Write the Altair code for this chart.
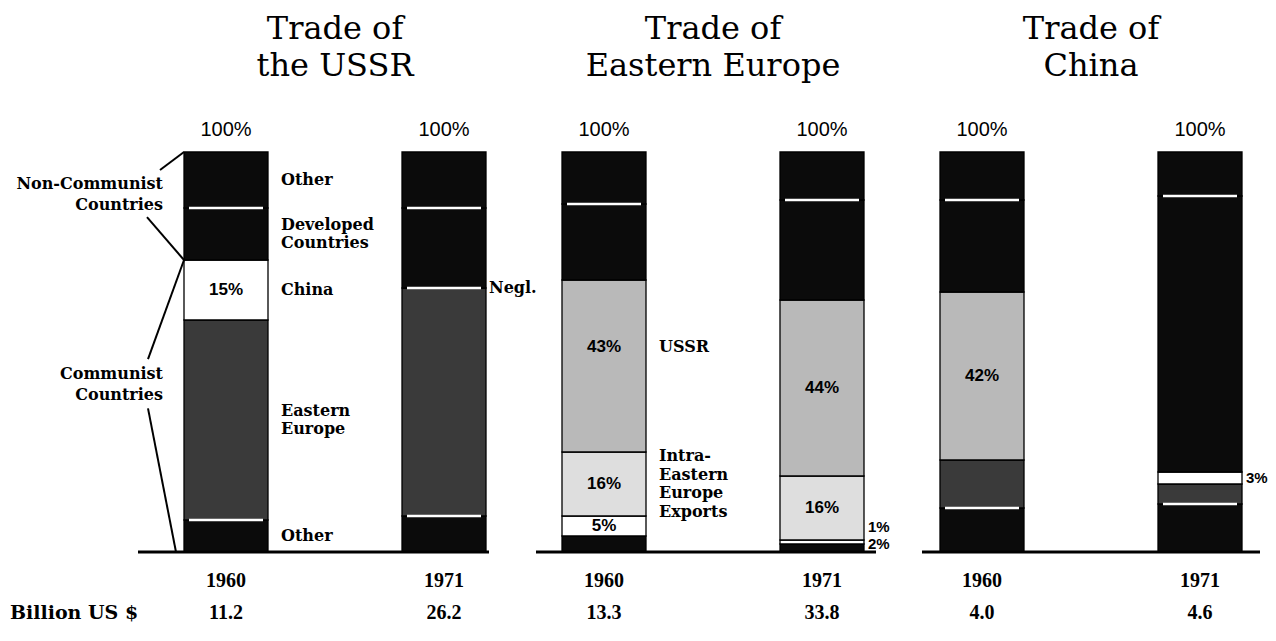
import altair as alt
import pandas as pd

# ------------------------------------------------------------------ data
YEARS = ["1960", "1971"]

# segments are listed bottom -> top
ussr_segments = ["Other (Communist)", "Eastern Europe", "China",
                 "Developed Countries", "Other (Non-Communist)"]
ussr_1960 = [8, 50, 15, 13, 14]
ussr_1971 = [9, 57, 0, 20, 14]

ee_segments = ["Other (Communist)", "China", "Intra-Eastern Europe Exports",
               "USSR", "Developed Countries", "Other (Non-Communist)"]
ee_1960 = [4, 5, 16, 43, 19, 13]
ee_1971 = [2, 1, 16, 44, 25, 12]

china_segments = ["Other (Communist)", "Eastern Europe", "USSR",
                  "Developed Countries", "Other (Non-Communist)"]
china_1960 = [11, 12, 42, 23, 12]
china_1971 = [12, 5, 3, 69, 11]

billion_usd_ussr = ["11.2", "26.2"]
billion_usd_ee = ["13.3", "33.8"]
billion_usd_china = ["4.0", "4.6"]

titles = {
    "USSR": ["Trade of", "the USSR"],
    "EE": ["Trade of", "Eastern Europe"],
    "China": ["Trade of", "China"],
}

# labels beside the bars (bottom -> top)
ussr_side_1960 = ["Other", "Eastern\nEurope", "China", "Developed\nCountries", "Other"]
ussr_side_1971 = ["", "", "Negl.", "", ""]
ee_side_1960 = ["", "", "Intra-\nEastern\nEurope\nExports", "USSR", "", ""]
ee_side_1971 = ["2%", "1%", "", "", "", ""]
china_side_1960 = ["", "", "", "", ""]
china_side_1971 = ["", "", "3%", "", ""]

# labels inside the bars (bottom -> top)
ussr_inside_1960 = ["", "", "15%", "", ""]
ussr_inside_1971 = ["", "", "", "", ""]
ee_inside_1960 = ["", "5%", "16%", "43%", "", ""]
ee_inside_1971 = ["", "", "16%", "44%", "", ""]
china_inside_1960 = ["", "", "42%", "", ""]
china_inside_1971 = ["", "", "", "", ""]

top_label = "100%"
left_top_label = "Non-Communist\nCountries"
left_bottom_label = "Communist\nCountries"
billion_label = "Billion US $"

# ------------------------------------------------------------------ style
KIND = {
    "Other (Communist)": "black",
    "Other (Non-Communist)": "black",
    "Developed Countries": "black",
    "Eastern Europe": "dark",
    "China": "white",
    "USSR": "light",
    "Intra-Eastern Europe Exports": "lighter",
}
KIND_OVERRIDE = {("China", "1971", "USSR"): "white"}
KIND_DOMAIN = ["black", "dark", "light", "lighter", "white"]
KIND_RANGE = ["#0b0b0b", "#3a3a3a", "#b9b9b9", "#dedede", "#ffffff"]
DARK = {"black", "dark"}
# label nudges (in percentage points)
NUDGE = {("EE", "1960", "USSR"): 4.7,
         ("EE", "1971", "China"): 3.8,
         ("EE", "1971", "Other (Communist)"): 1.0}

SERIF = "DejaVu Serif"
SANS = "Liberation Sans"
NUM = "Liberation Serif"

BAR_STEP = 218
BAR_W = 84
PLOT_H = 400
PX_PER_PCT = PLOT_H / 100
SIDE_LH = 18.5
LEFT_LH = 21
LAYOUT = {"USSR": (218, 80), "EE": (80, 80), "China": (80, 62)}
BASE_EXT = {"USSR": (46, 3), "EE": (26, 12), "China": (18, 18)}

YS = alt.Scale(domain=[0, 100], nice=False, zero=True)


def block_shift(text, lh):
    """shift (in % units) that centres a multi-line text block on its anchor"""
    return text.count("\n") * lh / 2 / PX_PER_PCT


def build_rows(key, segs, vals, sides, insides):
    rows = []
    for yr, v, sd, ins in zip(YEARS, vals, sides, insides):
        kinds = [KIND_OVERRIDE.get((key, yr, s), KIND[s]) for s in segs]
        for i, s in enumerate(segs):
            sep = False
            if v[i] > 0:
                nxt = [j for j in range(i + 1, len(segs)) if v[j] > 0]
                if nxt and kinds[i] in DARK and kinds[nxt[0]] in DARK:
                    sep = True
            lab = sd[i]
            style = "" if lab == "" else ("pct" if lab.endswith("%") else
                                          ("tight" if lab == "Negl." else "main"))
            rows.append(dict(year=yr, segment=s, order=i, value=v[i],
                             kind=kinds[i], sep=sep, side=lab, side_style=style,
                             inside=ins[i],
                             nudge=NUDGE.get((key, yr, s), 0.0),
                             lift=block_shift(lab, SIDE_LH)))
    return pd.DataFrame(rows)


def make_panel(key, segs, vals, sides, insides, billions, extra=None):
    lm, rm = LAYOUT[key]
    W = lm + BAR_STEP + rm
    pi = 1 - BAR_W / BAR_STEP
    outer = (lm - BAR_W / 2) + (rm - BAR_W / 2)
    po = outer / (2 * BAR_STEP)
    al = (lm - BAR_W / 2) / outer
    xs = alt.Scale(domain=YEARS, paddingInner=pi, paddingOuter=po, align=al)
    X = alt.X("year:N", scale=xs, axis=None)
    XR = alt.X("year:N", scale=xs, axis=None, bandPosition=1)

    df = build_rows(key, segs, vals, sides, insides)
    base = alt.Chart(df).transform_stack(
        stack="value", groupby=["year"], as_=["y0", "y1"],
        sort=[alt.SortField("order", order="ascending")], offset="zero"
    ).transform_calculate(
        mid="(datum.y0 + datum.y1) / 2 + datum.nudge",
        side_y="(datum.y0 + datum.y1) / 2 + datum.nudge + datum.lift")

    bars = base.mark_bar(stroke="black", strokeWidth=1.3).encode(
        x=X, y=alt.Y("y0:Q", scale=YS, axis=None), y2="y1:Q",
        color=alt.Color("kind:N", scale=alt.Scale(domain=KIND_DOMAIN, range=KIND_RANGE),
                        legend=None))
    seps = base.transform_filter("datum.sep").mark_tick(
        color="white", opacity=1, thickness=2.5, size=BAR_W - 10).encode(
        x=X, y=alt.Y("y1:Q", scale=YS, axis=None))
    inside = base.transform_filter("datum.inside != ''").mark_text(
        font=SANS, fontWeight="bold", fontSize=17, color="black").encode(
        x=X, y=alt.Y("mid:Q", scale=YS, axis=None), text="inside:N")
    side_main = base.transform_filter("datum.side_style == 'main'").mark_text(
        font=SERIF, fontWeight="bold", fontSize=16, align="left", dx=13,
        lineBreak="\n", lineHeight=SIDE_LH, color="black").encode(
        x=XR, y=alt.Y("side_y:Q", scale=YS, axis=None), text="side:N")
    side_tight = base.transform_filter("datum.side_style == 'tight'").mark_text(
        font=SERIF, fontWeight="bold", fontSize=16, align="left", dx=3,
        color="black").encode(
        x=XR, y=alt.Y("side_y:Q", scale=YS, axis=None), text="side:N")
    side_pct = base.transform_filter("datum.side_style == 'pct'").mark_text(
        font=SANS, fontWeight="bold", fontSize=15, align="left", dx=4,
        color="black").encode(
        x=XR, y=alt.Y("side_y:Q", scale=YS, axis=None), text="side:N")

    ydf = pd.DataFrame({"year": YEARS, "billion": billions, "top": [top_label] * 2})
    yb = alt.Chart(ydf)
    tops = yb.mark_text(font=SANS, fontSize=20, dy=-22, color="black").encode(
        x=X, y=alt.datum(100), text="top:N")
    years = yb.mark_text(font=NUM, fontWeight="bold", fontSize=20, dy=29,
                         color="black").encode(x=X, y=alt.datum(0), text="year:N")
    bills = yb.mark_text(font=NUM, fontWeight="bold", fontSize=20, dy=61,
                         color="black").encode(x=X, y=alt.datum(0), text="billion:N")

    le, re_ = BASE_EXT[key]
    one = pd.DataFrame({"k": [0]})
    baseline = alt.Chart(one).mark_rule(color="black", strokeWidth=3).encode(
        x=alt.value(lm - BAR_W / 2 - le), x2=alt.value(lm + BAR_STEP + BAR_W / 2 + re_),
        y=alt.datum(0))

    layers = [bars, seps, inside, side_main, side_tight, side_pct, tops, years,
              bills, baseline]
    if extra:
        layers += extra(lm)

    t = titles[key]
    return alt.layer(*layers).properties(
        width=W, height=PLOT_H,
        title=alt.TitleParams(text=t, font=SERIF, fontSize=32, fontWeight="normal",
                              lineHeight=37, anchor="middle", color="black",
                              dx=lm + BAR_STEP / 2 - W / 2, offset=37))


def ussr_extras(lm):
    bar_left = lm - BAR_W / 2
    split = sum(ussr_1960[:3])  # communist / non-communist boundary
    one = pd.DataFrame({"k": [0]})
    lines = [
        (bar_left - 24, 95.5, bar_left, 100),
        (bar_left - 37, 83.7, bar_left, split),
        (bar_left - 36, 48.2, bar_left, split),
        (bar_left - 36, 35.9, bar_left - 8, 0),
    ]
    out = []
    for xa, ya, xb, yb_ in lines:
        out.append(alt.Chart(one).mark_rule(color="black", strokeWidth=2).encode(
            x=alt.value(xa), x2=alt.value(xb), y=alt.datum(ya), y2=alt.datum(yb_)))
    out.append(alt.Chart(one).mark_text(
        font=SERIF, fontWeight="bold", fontSize=16, align="right", lineBreak="\n",
        lineHeight=LEFT_LH, color="black").encode(
        x=alt.value(bar_left - 21),
        y=alt.datum(89.3 + block_shift(left_top_label, LEFT_LH)),
        text=alt.value(left_top_label)))
    out.append(alt.Chart(one).mark_text(
        font=SERIF, fontWeight="bold", fontSize=16, align="right", lineBreak="\n",
        lineHeight=LEFT_LH, color="black").encode(
        x=alt.value(bar_left - 21),
        y=alt.datum(42 + block_shift(left_bottom_label, LEFT_LH)),
        text=alt.value(left_bottom_label)))
    out.append(alt.Chart(one).mark_text(
        font=SERIF, fontWeight="bold", fontSize=19, align="left", dy=61,
        color="black").encode(
        x=alt.value(2), y=alt.datum(0), text=alt.value(billion_label)))
    return out


p1 = make_panel("USSR", ussr_segments, [ussr_1960, ussr_1971],
                [ussr_side_1960, ussr_side_1971], [ussr_inside_1960, ussr_inside_1971],
                billion_usd_ussr, extra=ussr_extras)
p2 = make_panel("EE", ee_segments, [ee_1960, ee_1971],
                [ee_side_1960, ee_side_1971], [ee_inside_1960, ee_inside_1971],
                billion_usd_ee)
p3 = make_panel("China", china_segments, [china_1960, china_1971],
                [china_side_1960, china_side_1971], [china_inside_1960, china_inside_1971],
                billion_usd_china)

chart = alt.hconcat(p1, p2, p3, spacing=0, bounds="flush").properties(
    padding={"left": 0, "right": 0, "top": 5, "bottom": 0}
).configure_view(stroke=None)

chart.save("out.html", embed_options={"renderer": "svg", "actions": False})
